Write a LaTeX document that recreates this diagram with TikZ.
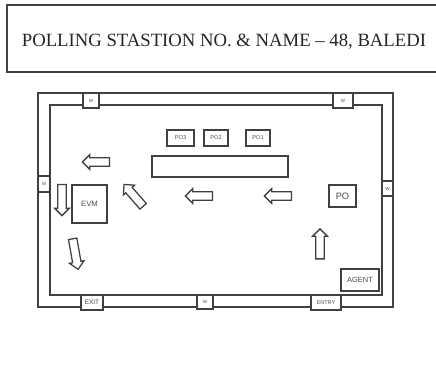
\documentclass[tikz,border=0pt]{standalone}
\usepackage{fontspec}
\setmainfont{Liberation Serif}
\setsansfont{Liberation Sans}
\usetikzlibrary{shapes.arrows}

\tikzset{
    box/.style 2 args={draw=black!75, line width=1pt, fill=white, inner sep=0pt, font=\sffamily,
        text=black!70, minimum width=#1*0.025cm, minimum height=#2*0.025cm},
    flow/.style={draw=black!75, line width=0.9pt, fill=white, single arrow, inner xsep=0pt, inner ysep=0.09cm,
        minimum height=#1*0.025cm, single arrow head extend=0.08cm,
        single arrow tip angle=90, shape border uses incircle=false},
}

\newcommand{\lbl}[1]{\fontsize{#1}{#1}\selectfont}

\begin{document}
\begin{tikzpicture}[x=0.025cm, y=-0.025cm]
            \useasboundingbox (0, 0) rectangle (436, 385);
            \node[box={434}{67}, text=black!85, text height=12pt, text depth=1pt, font=\rmfamily\fontsize{13.3}{14}\selectfont] (title) at (224, 38.5) {POLLING STASTION NO. \& NAME -- 48, BALEDI};
            % walls
            \draw[black!75, line width=1pt] (38, 93) rectangle (393, 307);
            \draw[black!75, line width=1pt] (50, 105) rectangle (382, 295);
            % openings in the walls
            \node[box={16}{15}] (wintl) at (91, 100.5) {\lbl{3.2}W};
            \node[box={20}{15}] (wintr) at (343, 100.5) {\lbl{3.2}W};
            \node[box={12}{16}] (winl) at (44, 184) {\lbl{3.2}W};
            \node[box={11}{15}] (winr) at (387.5, 188.5) {\lbl{3.2}W};
            \node[box={22}{15}] (exit) at (92, 302.5) {\lbl{4.6}EXIT};
            \node[box={16}{14}] (winb) at (205, 302) {\lbl{3.2}W};
            \node[box={30}{15}] (entry) at (326, 302.5) {\lbl{3.9}ENTRY};
            % officers and furniture
            \node[box={27}{16}] (pothree) at (180.5, 138) {\lbl{4}PO3};
            \node[box={24}{16}] (potwo) at (216, 138) {\lbl{4}PO2};
            \node[box={24}{16}] (poone) at (258, 138) {\lbl{4}PO1};
            \node[box={136}{21}] (table) at (220, 166.5) {};
            \node[box={35}{38}] (evm) at (89.5, 204) {\lbl{5.5}EVM};
            \node[box={27}{22}] (po) at (342.5, 196) {\lbl{6.6}PO};
            \node[box={38}{22}] (agent) at (360, 280) {\lbl{5.3}AGENT};
            % the way through the room
            \node[flow=30, rotate=90] (stepa) at (320, 246) {};
            \node[flow=27, rotate=180] (stepb) at (280, 196) {};
            \node[flow=27, rotate=180] (stepc) at (201, 196) {};
            \node[flow=29, rotate=131] (stepd) at (135, 197) {};
            \node[flow=27, rotate=180] (stepe) at (98, 162) {};
            \node[flow=31, rotate=270] (stepf) at (62, 198) {};
            \node[flow=31, rotate=280] (stepg) at (75, 252) {};
        \end{tikzpicture}
\end{document}
